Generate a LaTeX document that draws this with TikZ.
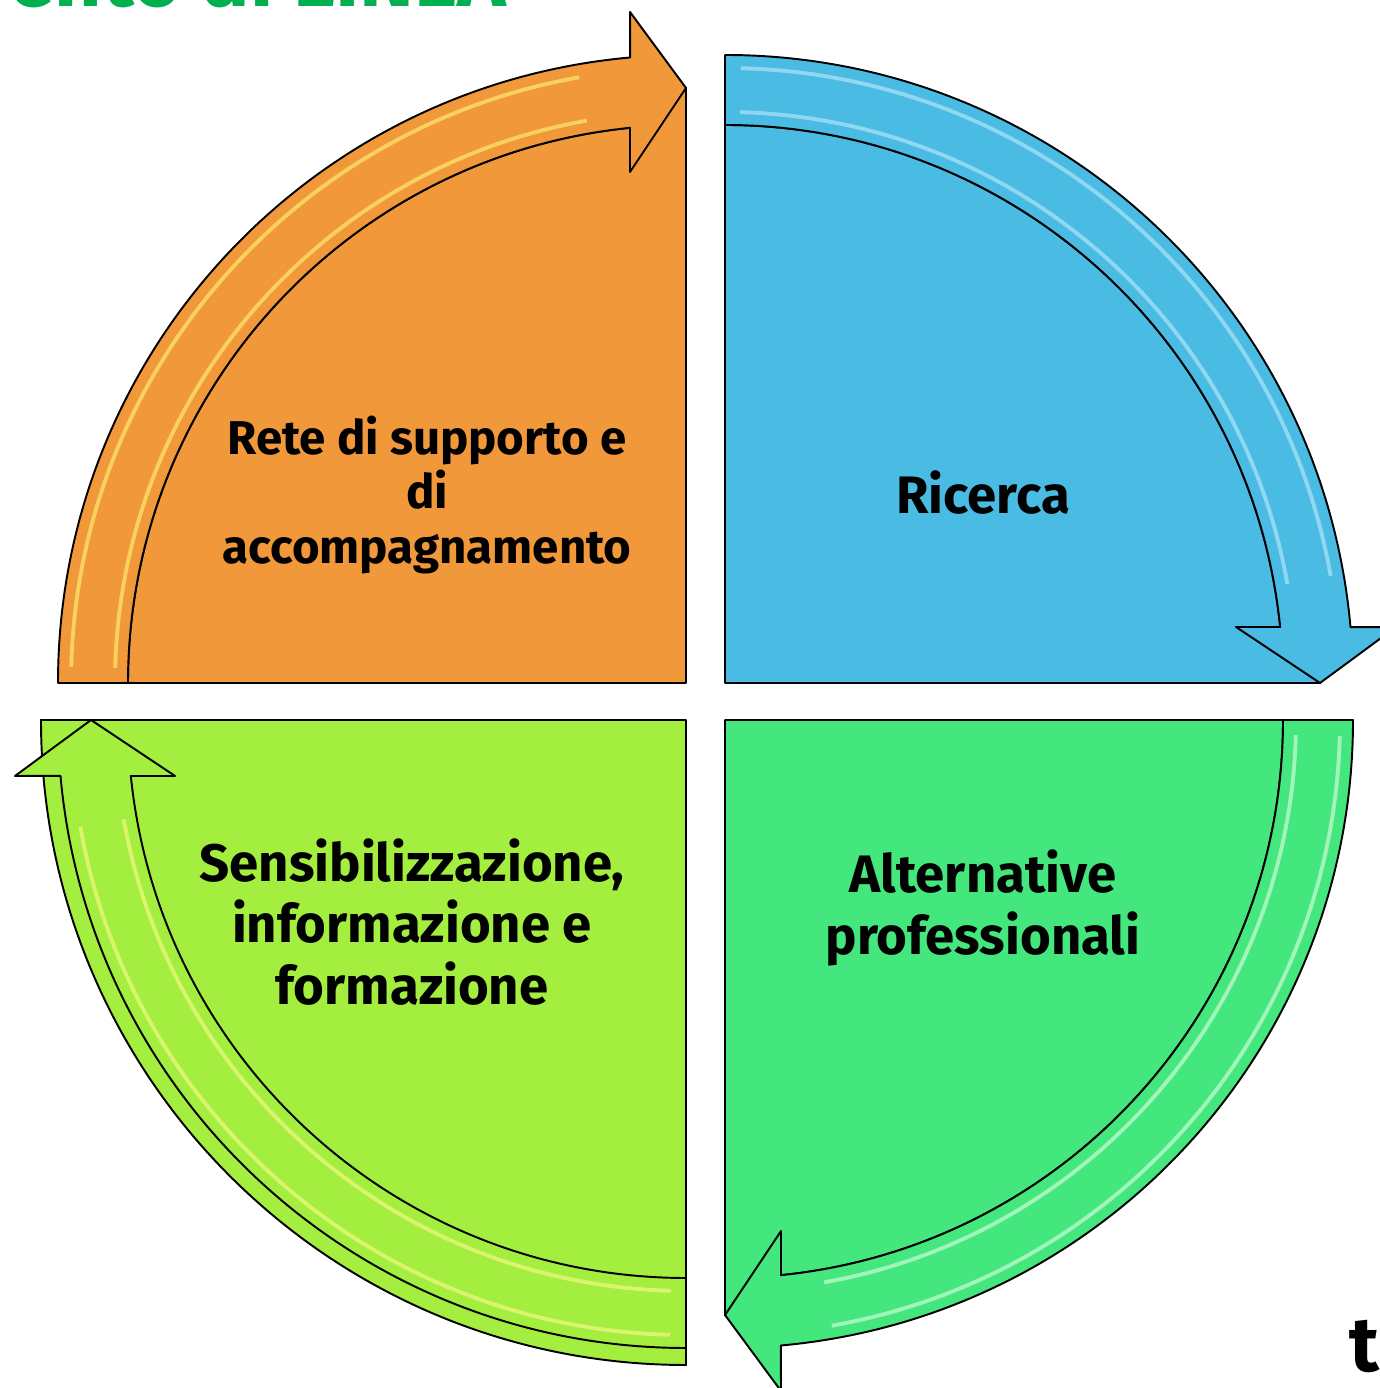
\documentclass[tikz,border=0pt]{standalone}
\usepackage{fontspec}
\setmainfont{Fira Sans}

\definecolor{segorange}{HTML}{F0983A}
\definecolor{segblue}{HTML}{4ABBE3}
\definecolor{seggreen}{HTML}{44E67E}
\definecolor{seglime}{HTML}{A3EE3F}
\definecolor{titlegreen}{HTML}{00B050}

% one quarter: pie + curved arrow (shift, rotate, fill, shine colour, pie radius, pie end angle)
\newcommand{\cycleseg}[6]{%
  \begin{scope}[shift={#1},rotate=#2]
    \draw[seg line,fill=#3] (0,0) -- (-#5,0) arc[start angle=180,end angle=#6,radius=#5] -- (0,595) -- cycle;
    \draw[seg line,fill=#3] (180:628) arc[start angle=180,end angle=95.1,radius=628]
      -- (-56,671) -- (0,595) -- (-56,511)
      -- (95.76:558) arc[start angle=95.76,end angle=180,radius=558] -- cycle;
    \draw[shine,#4] (178.5:571) arc[start angle=178.5,end angle=100,radius=571];
    \draw[shine,#4] (178.5:615) arc[start angle=178.5,end angle=100,radius=615];
  \end{scope}}

\begin{document}
\begin{tikzpicture}[x=0.02cm,
					y=0.02cm,
					line join=round,
					seg line/.style={draw=black,line width=1.1pt},
					shine/.style={line width=2.2pt,opacity=0.6},
					seg text/.style={font=\bfseries\fontsize{30}{34}\selectfont,align=center,text=black}]

  \useasboundingbox (0,0) rectangle (1379,1388);

  \cycleseg{(686,705)}{0}{segorange}{yellow!55!white}{558}{95.76}
  \cycleseg{(725,705)}{-90}{segblue}{cyan!25!white}{558}{95.76}
  \cycleseg{(725,668)}{180}{seggreen}{green!12!white}{558}{95.76}
  \cycleseg{(686,668)}{90}{seglime}{yellow!45!white}{645}{90}

  \node[seg text,font=\bfseries\fontsize{27}{31}\selectfont] (rete) at (427,893)
    {Rete di supporto e\\di\\accompagnamento};
  \node[seg text] (ricerca) at (983,895) {Ricerca};
  \node[seg text,font=\bfseries\fontsize{30}{35}\selectfont] (altern) at (983,480)
    {Alternative\\professionali};
  \node[seg text,font=\bfseries\fontsize{30}{35}\selectfont] (sensib) at (412,466)
    {Sensibilizzazione,\\informazione e\\formazione};

  % cut-off texts at the borders
  \node[anchor=base east,inner sep=0pt,text=titlegreen,font=\bfseries\fontsize{47}{50}\selectfont] (titolo) at (507,1381) {ento di LINEA};
  \node[anchor=base west,inner sep=0pt,font=\bfseries\fontsize{44}{46}\selectfont] (tcut) at (1349,16) {t};
\end{tikzpicture}
\end{document}
